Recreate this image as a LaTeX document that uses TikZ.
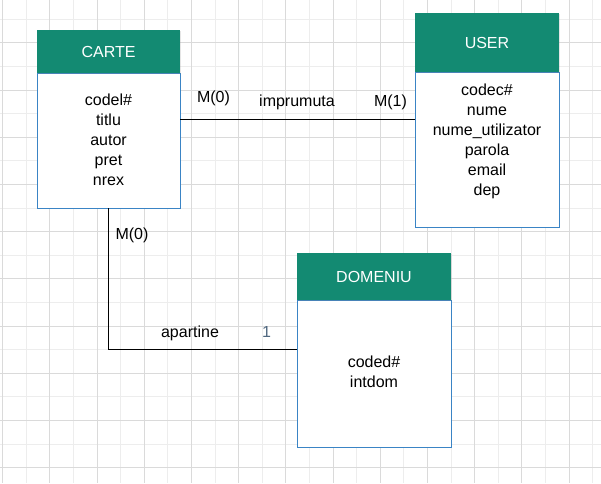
\documentclass[tikz,border=0pt]{standalone}
\usepackage{fontspec}
\setmainfont{Liberation Sans}
\usepackage{tikz}
\usetikzlibrary{shadows}
\definecolor{headteal}{HTML}{138A72}
\definecolor{bodyblue}{HTML}{3A84C5}
\definecolor{gridmaj}{HTML}{DADADA}
\definecolor{gridmin}{HTML}{EDEDED}
\definecolor{labslate}{HTML}{506880}

\begin{document}
\begin{tikzpicture}[x=0.75pt,y=-0.75pt,
  gridminor/.style={draw=gridmin,line width=0.75pt},
  gridmajor/.style={draw=gridmaj,line width=0.75pt},
  head/.style={fill=headteal,text=white,inner sep=0pt,outer sep=0pt,
    font=\fontsize{12}{15}\selectfont,drop shadow={shadow xshift=1pt,shadow yshift=-1pt,opacity=0.2}},
  body/.style={draw=bodyblue,fill=white,line width=0.75pt,inner sep=0pt,outer sep=0pt,
    drop shadow={shadow xshift=1pt,shadow yshift=-1pt,opacity=0.2}},
  attr/.style={align=center,inner sep=0pt,anchor=north,font=\fontsize{12}{15}\selectfont},
  lab/.style={inner sep=0pt,anchor=base,font=\fontsize{12}{15}\selectfont},
  rel/.style={draw=black,line width=0.75pt}]
\useasboundingbox (0,0) rectangle (601,483);
\fill[white] (0,0) rectangle (601,483);
\foreach \gx in {26.3,73.5,...,600} \draw[gridminor] (\gx,0) -- (\gx,483);
\foreach \gy in {19.3,66.5,...,483} \draw[gridminor] (0,\gy) -- (601,\gy);
\foreach \gx in {2.7,49.9,...,600} \draw[gridmajor] (\gx,0) -- (\gx,483);
\foreach \gy in {42.9,90.1,...,483} \draw[gridmajor] (0,\gy) -- (601,\gy);

\begin{scope}
\node[body,minimum width=107.25pt,minimum height=101.25pt] (carteB) at (108.5,140.5) {};
\node[head,minimum width=107.25pt,minimum height=32.25pt] (carteH) at (108.5,51.5) {CARTE};
\node[attr] (carteA) at (108.5,94) {codel\#\\titlu\\autor\\pret\\nrex};

\node[body,minimum width=108pt,minimum height=116.25pt] (userB) at (487,149.5) {};
\node[head,minimum width=108pt,minimum height=44.25pt] (userH) at (487,42.5) {USER};
\node[attr] (userA) at (487,83.3) {codec\#\\nume\\nume\_utilizator\\parola\\email\\dep};

\node[body,minimum width=115.5pt,minimum height=110.25pt] (domB) at (374,373.5) {};
\node[head,minimum width=115.5pt,minimum height=35.25pt] (domH) at (374,276.5) {DOMENIU};
\node[attr] (domA) at (374,356) {coded\#\\intdom};
\end{scope}

\coordinate (imp) at (0,119.5);
\coordinate (apa) at (0,349.5);
\draw[rel] (carteB.east |- imp) -- (userB.west |- imp);
\draw[rel] (carteB.south) |- (domB.west |- apa);

\node[lab] (m0a) at (213.5,102.7) {M(0)};
\node[lab] (impr) at (297,106.7) {imprumuta};
\node[lab] (m1) at (390.5,106.7) {M(1)};
\node[lab] (m0b) at (132,239) {M(0)};
\node[lab] (apart) at (190,337.7) {apartine};
\node[lab,text=labslate] (one) at (266.5,337.7) {1};

\end{tikzpicture}
\end{document}
